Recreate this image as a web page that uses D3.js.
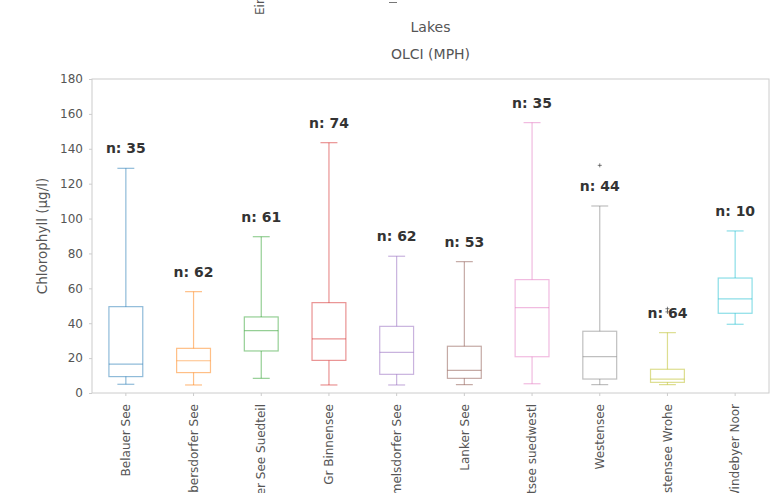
<!DOCTYPE html>
<html>
<head>
<meta charset="utf-8">
<script src="https://cdn.jsdelivr.net/npm/d3@7"></script>
<style>
  body { margin: 0; background: #fff; overflow: hidden; }
  svg { display: block; font-family: "DejaVu Sans", sans-serif; }
</style>
</head>
<body>
<div id="chart"></div>
<script>
// lakes shown in the panel
const lakes = ["Belauer See", "Dobersdorfer See", "Gr Ploener See Suedteil", "Gr Binnensee",
  "Hemmelsdorfer See", "Lanker See", "Ostsee suedwestl", "Westensee", "Westensee Wrohe", "Windebyer Noor"];
// box stats
const whiskLow = [5.0, 4.6, 8.4, 4.6, 4.6, 4.8, 5.3, 4.8, 4.8, 39.4];
const q1 = [9.4, 11.7, 24.1, 18.7, 10.7, 8.4, 20.8, 8.0, 6.1, 45.7];
const median = [16.6, 18.5, 35.7, 31.0, 23.3, 13.0, 48.9, 20.8, 8.0, 53.9];
const q3 = [49.5, 25.6, 43.6, 51.8, 38.2, 26.8, 65.0, 35.4, 13.6, 65.9];
const whiskHigh = [128.8, 58.1, 89.6, 143.5, 78.4, 75.3, 155.0, 107.2, 34.6, 92.9];
const counts = [35, 62, 61, 74, 62, 53, 35, 44, 64, 10];
const outliers = [[], [], [], [], [], [], [], [130.5], [46.5, 48.3], []];
const yTicks = [0, 20, 40, 60, 80, 100, 120, 140, 160, 180];

const colors = d3.schemeCategory10;
const w = 784, h = 493;
const margin = { top: 79, left: 92, right: 15, bottom: 100 };

const svg = d3.select("#chart").append("svg").attr("width", w).attr("height", h);

const x = d3.scaleBand().domain(lakes).range([margin.left, w - margin.right]).padding(0);
const y = d3.scaleLinear().domain([0, 180]).range([h - margin.bottom, margin.top]);

// leftovers of the panel above
svg.append("text")
  .attr("transform", "translate(264,15) rotate(-90)")
  .attr("font-size", 12).attr("fill", "#555")
  .text("Einfelder See");
svg.append("line")
  .attr("x1", 389).attr("x2", 397).attr("y1", 2.5).attr("y2", 2.5)
  .attr("stroke", "#777").attr("stroke-width", 1);

// frame
svg.append("rect")
  .attr("x", margin.left).attr("y", margin.top)
  .attr("width", w - margin.right - margin.left)
  .attr("height", h - margin.bottom - margin.top)
  .attr("fill", "none").attr("stroke", "#ccc").attr("stroke-width", 1);

// titles
const midX = (margin.left + w - margin.right) / 2;
svg.append("text").attr("x", midX).attr("y", 32).attr("text-anchor", "middle")
  .attr("font-size", 14).attr("fill", "#555").text("Lakes");
svg.append("text").attr("x", midX).attr("y", 59).attr("text-anchor", "middle")
  .attr("font-size", 14).attr("fill", "#555").text("OLCI (MPH)");

// axes
const yAxis = svg.append("g")
  .attr("transform", `translate(${margin.left},0)`)
  .call(d3.axisLeft(y).tickValues(yTicks).tickSize(3).tickPadding(6));
const xAxis = svg.append("g")
  .attr("transform", `translate(0,${h - margin.bottom})`)
  .call(d3.axisBottom(x).tickSize(3).tickPadding(6));
[yAxis, xAxis].forEach((g) => {
  g.select(".domain").remove();
  g.selectAll(".tick line").attr("stroke", "#ccc");
  g.selectAll(".tick text").attr("fill", "#555").attr("font-size", 12)
    .attr("font-family", "DejaVu Sans, sans-serif");
});
xAxis.selectAll(".tick text")
  .attr("transform", "rotate(-90)")
  .attr("text-anchor", "end")
  .attr("x", -11).attr("y", 0).attr("dy", "0.35em");

svg.append("text")
  .attr("transform", `translate(47,${(margin.top + h - margin.bottom) / 2}) rotate(-90)`)
  .attr("text-anchor", "middle").attr("font-size", 13.5).attr("fill", "#555")
  .text("Chlorophyll (µg/l)");

// boxes
const boxW = x.bandwidth() * 0.5;
const capW = boxW * 0.5;
const groups = svg.append("g").selectAll("g").data(lakes).join("g")
  .attr("stroke", (d, i) => colors[i]).attr("stroke-opacity", 0.5)
  .attr("fill", "none").attr("stroke-width", 1.2);

groups.each(function (d, i) {
  const g = d3.select(this);
  const cx = x(d) + x.bandwidth() / 2;
  g.append("rect").attr("x", cx - boxW / 2).attr("y", y(q3[i]))
    .attr("width", boxW).attr("height", y(q1[i]) - y(q3[i]));
  g.append("line").attr("x1", cx - boxW / 2).attr("x2", cx + boxW / 2)
    .attr("y1", y(median[i])).attr("y2", y(median[i]));
  g.append("line").attr("x1", cx).attr("x2", cx).attr("y1", y(q3[i])).attr("y2", y(whiskHigh[i]));
  g.append("line").attr("x1", cx).attr("x2", cx).attr("y1", y(q1[i])).attr("y2", y(whiskLow[i]));
  [whiskHigh[i], whiskLow[i]].forEach((v) => {
    g.append("line").attr("x1", cx - capW / 2).attr("x2", cx + capW / 2)
      .attr("y1", y(v)).attr("y2", y(v));
  });
  outliers[i].forEach((v) => {
    g.append("path").attr("d", `M${cx - 2},${y(v)}h4M${cx},${y(v) - 2}v4`)
      .attr("stroke", "#333").attr("stroke-opacity", 0.8).attr("stroke-width", 0.8);
  });
});

// counts above whiskers
svg.append("g").selectAll("text").data(lakes).join("text")
  .attr("x", (d) => x(d) + x.bandwidth() / 2)
  .attr("y", (d, i) => y(whiskHigh[i]) - 15)
  .attr("text-anchor", "middle")
  .attr("font-size", 14).attr("font-weight", "bold").attr("fill", "#333")
  .text((d, i) => "n: " + counts[i]);
</script>
</body>
</html>
